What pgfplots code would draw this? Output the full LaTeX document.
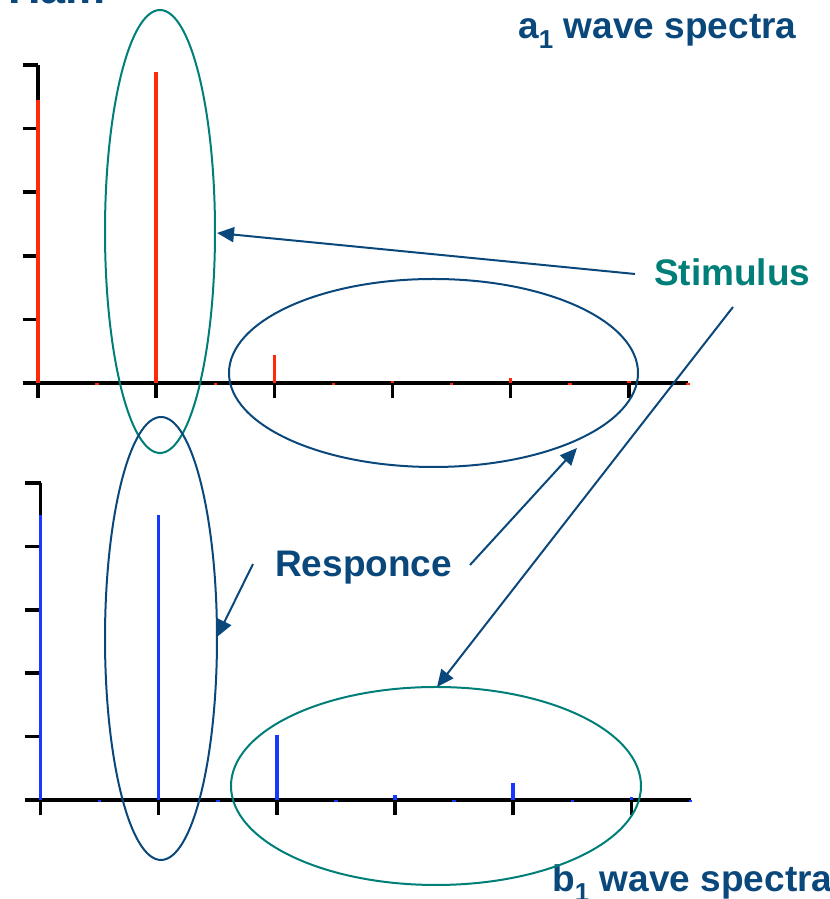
\documentclass[border=0pt]{standalone}
\usepackage{pgfplots}
\pgfplotsset{compat=1.18}
\usepackage{fontspec}
\setmainfont{Liberation Sans}
\usetikzlibrary{arrows.meta}
\definecolor{dblue}{RGB}{10,72,124}
\definecolor{teal2}{RGB}{0,126,120}
\definecolor{sred}{RGB}{255,42,10}
\definecolor{sblue}{RGB}{22,56,255}
\pgfplotsset{
  spec/.style={
    scale only axis, width=650bp, clip=false,
    xmin=0, xmax=5.5, ymin=0, ymax=5,
    axis x line=bottom, axis y line=left,
    x axis line style={-}, y axis line style={-},
    every outer x axis line/.append style={-},
    every outer y axis line/.append style={-},
    axis line style={line width=3.5bp, black},
    xtick={0,1,2,3,4,5}, ytick={0,1,2,3,4,5},
    xticklabels={}, yticklabels={},
    tick align=outside, major tick length=15bp,
    tick style={line width=3.5bp, black},
    anchor=south west,
  }
}
\begin{document}
\begin{tikzpicture}
\path[use as bounding box] (0,0) rectangle (830bp,899bp);
% top axis (a1)
\begin{axis}[spec, height=318bp, at={(38bp,516bp)}]
\addplot[ycomb, sred, line width=3.5bp, mark=none] coordinates {
 (0,4.45) (1,4.89) (2,0.44) (3,0.03) (4,0.08) (5,0.03)};
\addplot[ycomb, sred, line width=3.5bp, mark=none] coordinates {
 (0.5,-0.03) (1.5,-0.03) (2.5,-0.03) (3.5,-0.03) (4.5,-0.03) (5.5,-0.03)};
\end{axis}
% bottom axis (b1)
\begin{axis}[spec, height=317bp, at={(40.5bp,99bp)}]
\addplot[ycomb, sblue, line width=3.5bp, mark=none] coordinates {
 (0,4.5) (1,4.5) (2,1.03) (3,0.08) (4,0.27) (5,0.05)};
\addplot[ycomb, sblue, line width=3.5bp, mark=none] coordinates {
 (0.5,-0.03) (1.5,-0.03) (2.5,-0.03) (3.5,-0.03) (4.5,-0.03) (5.5,-0.03)};
\end{axis}
% annotations (pixel coordinates, y downward)
\begin{scope}[x=1bp, y=-1bp, yshift=899bp]
\node[anchor=base west, inner sep=0pt, text=dblue, font=\fontsize{45bp}{48bp}\selectfont\bfseries] at (8,4) {Ham};
\node[anchor=base west, inner sep=0pt, text=dblue, font=\fontsize{37bp}{40bp}\selectfont\bfseries] at (518,39) {a\textsubscript{1} wave spectra};
\node[anchor=base west, inner sep=0pt, text=dblue, font=\fontsize{37bp}{40bp}\selectfont\bfseries] at (552,892) {b\textsubscript{1} wave spectra};
\node[anchor=base west, inner sep=0pt, text=teal2, font=\fontsize{37bp}{40bp}\selectfont\bfseries] at (654,286) {Stimulus};
\node[anchor=base west, inner sep=0pt, text=dblue, font=\fontsize{37bp}{40bp}\selectfont\bfseries] at (275,577) {Responce};
% ellipses
\draw[teal2, line width=2bp] (160,231.5) ellipse [x radius=55, y radius=221.5];
\draw[dblue, line width=2bp] (433.5,373) ellipse [x radius=204.5, y radius=94];
\draw[dblue, line width=2bp] (161,638.5) ellipse [x radius=56, y radius=221.5];
\draw[teal2, line width=2bp] (436,786) ellipse [x radius=205, y radius=99];
% arrows
\tikzset{arr/.style={dblue, line width=2bp, -{Triangle[length=17bp,width=15bp]}}}
\draw[arr] (635,274) -- (217,233);
\draw[arr] (733,307) -- (437,687);
\draw[arr] (470,565) -- (577,448);
\draw[arr] (253,564) -- (217,637);
\end{scope}
\end{tikzpicture}
\end{document}
